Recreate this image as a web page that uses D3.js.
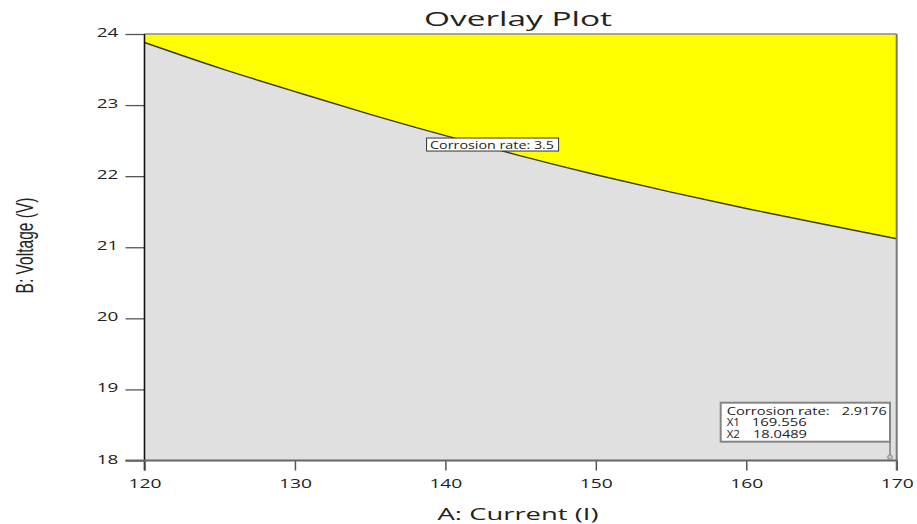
<!DOCTYPE html>
<html><head><meta charset="utf-8">
<script src="https://cdn.jsdelivr.net/npm/d3@7"></script>
<style>body{margin:0;background:#fff}svg{display:block}</style>
</head><body>
<svg id="chart" width="917" height="524"></svg>
<script>
// ---- data ----
const currentValues = [120,125,130,135,140,145,150,155,160,165,170];
const voltageContour35 = [23.88,23.52,23.19,22.87,22.57,22.285,22.02,21.775,21.545,21.33,21.12];
const xTickValues = [120,130,140,150,160,170];
const yTickValues = [18,19,20,21,22,23,24];
const contourLabel = "Corrosion rate: 3.5";
const flagResponse = ["Corrosion rate:", "2.9176"];
const flagX1 = ["X1", "169.556"];
const flagX2 = ["X2", "18.0489"];
const flagPoint = [169.556, 18.0489];
const titleText = "Overlay Plot";
const xLabel = "A: Current (I)";
const yLabel = "B: Voltage (V)";

const svg = d3.select("#chart");
const x = d3.scaleLinear().domain([120,170]).range([144.5,896.7]);
const y = d3.scaleLinear().domain([18,24]).range([460.5,34]);
const FONT = "'Open Sans', 'Noto Sans', sans-serif";

const pts = currentValues.map((c,i)=>[c, voltageContour35[i]]);

// gray background of plot
svg.append("rect").attr("x",x(120)).attr("y",y(24))
  .attr("width",x(170)-x(120)).attr("height",y(18)-y(24)).attr("fill","#e0e0e0");

// yellow region above the contour
const area = d3.area().x(d=>x(d[0])).y0(y(24)).y1(d=>y(d[1])).curve(d3.curveNatural);
svg.append("path").datum(pts).attr("d",area).attr("fill","#ffff00");

// contour line
const line = d3.line().x(d=>x(d[0])).y(d=>y(d[1])).curve(d3.curveNatural);
svg.append("path").datum(pts).attr("d",line).attr("fill","none")
  .attr("stroke","#3a3a3a").attr("stroke-width",1.4);

// frame: top and right
svg.append("line").attr("x1",x(120)).attr("x2",x(170)).attr("y1",y(24)).attr("y2",y(24))
  .attr("stroke","#8a8a8a").attr("stroke-width",1.6);
svg.append("line").attr("x1",x(170)).attr("x2",x(170)).attr("y1",y(24)).attr("y2",y(18)+10)
  .attr("stroke","#7a7a7a").attr("stroke-width",2);

// y axis
const yAxis = d3.axisLeft(y).tickValues(yTickValues).tickSize(19).tickPadding(7).tickFormat(d3.format("d"));
const gy = svg.append("g").attr("transform",`translate(${x(120)},0)`).call(yAxis);
gy.select(".domain").remove();
gy.selectAll(".tick line").attr("stroke","#555").attr("stroke-width",1.3);
gy.selectAll(".tick text").remove();
gy.selectAll(".tick").append("text")
  .attr("x",-26.2).attr("y",2.5).attr("text-anchor","end")
  .attr("font-family",FONT).attr("font-size",12).attr("fill","#222")
  .attr("textLength",21.6).attr("lengthAdjust","spacingAndGlyphs")
  .text(d=>d);
svg.append("line").attr("x1",x(120)).attr("x2",x(120)).attr("y1",y(24)).attr("y2",y(18)+10)
  .attr("stroke","#111").attr("stroke-width",1.6);

// x axis
const xAxis = d3.axisBottom(x).tickValues(xTickValues).tickSize(10).tickFormat(d3.format("d"));
const gx = svg.append("g").attr("transform",`translate(0,${y(18)})`).call(xAxis);
gx.select(".domain").remove();
gx.selectAll(".tick line").attr("stroke","#555").attr("stroke-width",1.5);
gx.selectAll(".tick text").remove();
gx.selectAll(".tick").append("text")
  .attr("x",0).attr("y",27.8).attr("text-anchor","middle")
  .attr("font-family",FONT).attr("font-size",12).attr("fill","#222")
  .attr("textLength",33).attr("lengthAdjust","spacingAndGlyphs")
  .text(d=>d);
svg.append("line").attr("x1",x(120)-19).attr("x2",x(170)).attr("y1",y(18)).attr("y2",y(18))
  .attr("stroke","#666").attr("stroke-width",2);

// title
svg.append("text").attr("x",518).attr("y",25.5).attr("text-anchor","middle")
  .attr("font-family",FONT).attr("font-size",20).attr("fill","#222")
  .attr("textLength",188).attr("lengthAdjust","spacingAndGlyphs").text(titleText);

// axis titles
svg.append("text").attr("x",518).attr("y",520).attr("text-anchor","middle")
  .attr("font-family",FONT).attr("font-size",16.5).attr("fill","#222")
  .attr("textLength",161).attr("lengthAdjust","spacingAndGlyphs").text(xLabel);
svg.append("text").attr("transform","translate(33,245.5) scale(1.6,1) rotate(-90)")
  .attr("text-anchor","middle")
  .attr("font-family","'Liberation Sans Narrow','Liberation Sans',sans-serif").attr("font-size",14.5).attr("fill","#222")
  .attr("textLength",96).attr("lengthAdjust","spacingAndGlyphs").text(yLabel);

// contour label box
const lbx = x(138.75), lby = y(22.445);
svg.append("rect").attr("x",lbx).attr("y",lby-6.5).attr("width",132).attr("height",13)
  .attr("fill","#fff").attr("stroke","#333").attr("stroke-width",1);
svg.append("text").attr("x",lbx+3.5).attr("y",lby+4).attr("font-family",FONT)
  .attr("font-size",10.5).attr("fill","#222")
  .attr("textLength",124).attr("lengthAdjust","spacingAndGlyphs").text(contourLabel);

// flag at the optimum point
const fx = x(flagPoint[0]), fy = y(flagPoint[1]);
const boxL = 720.7, boxT = 402.7, boxB = 441.7;
svg.append("line").attr("x1",fx).attr("x2",fx).attr("y1",boxB).attr("y2",fy)
  .attr("stroke","#808080").attr("stroke-width",1.5);
svg.append("circle").attr("cx",fx).attr("cy",fy).attr("r",2.3)
  .attr("fill","#c8c8c8").attr("stroke","#808080").attr("stroke-width",1);
svg.append("rect").attr("x",boxL).attr("y",boxT).attr("width",fx-boxL).attr("height",boxB-boxT)
  .attr("fill","#fff").attr("stroke","#858585").attr("stroke-width",2);
const ftxt = (t,x0,yb,w)=>svg.append("text").attr("x",x0).attr("y",yb).attr("font-family",FONT)
  .attr("font-size",11).attr("fill","#222")
  .attr("textLength",w).attr("lengthAdjust","spacingAndGlyphs").text(t);
ftxt(flagResponse[0],726.7,415,103);
ftxt(flagResponse[1],841.7,415,45);
ftxt(flagX1[0],726.7,426.3,13.3);
ftxt(flagX1[1],751.7,426.3,55);
ftxt(flagX2[0],726.7,437.5,13.3);
ftxt(flagX2[1],753,437.5,54);
</script>
</body></html>
